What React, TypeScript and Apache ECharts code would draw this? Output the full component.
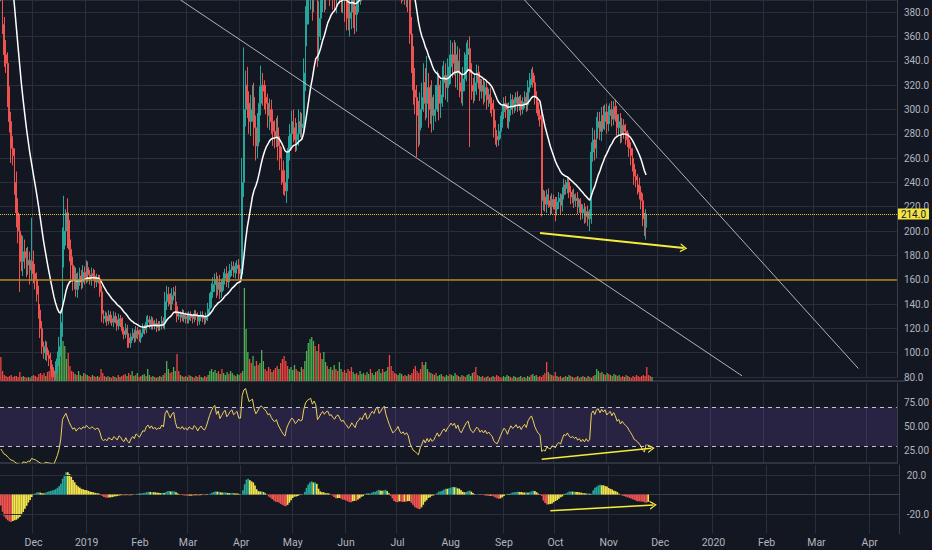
import React, { useEffect, useRef } from "react";
import * as echarts from "echarts";

// ---------- data ----------
const START_UTC = Date.UTC(2018, 10, 12);
const DAY_COUNT = 524;
const MONTHS = ["Jan", "Feb", "Mar", "Apr", "May", "Jun", "Jul", "Aug", "Sep", "Oct", "Nov", "Dec"];

// closes before the visible window (indicator warm-up)
const priorCloses = [
  445, 448, 452, 450, 447, 443, 446, 451, 454, 452,
  449, 446, 448, 452, 455, 453, 450, 447, 449, 452,
  456, 458, 455, 452, 454, 457, 462, 470, 500, 530,
  560, 575, 565, 550, 540, 530, 520, 515, 510, 505,
];

// daily closes from 2018-11-12
const closes = [
  395, 370, 345, 338, 312, 290, 268, 262, 240, 215,
  200, 188, 175, 183, 178, 172, 176, 168, 175, 165,
  160, 148, 135, 120, 105, 100, 104, 98, 95, 90,
  85, 82, 88, 95, 105, 125, 185, 200, 215, 200,
  185, 172, 160, 165, 152, 160, 163, 158, 166, 162,
  170, 164, 160, 165, 163, 158, 161, 160, 150, 132,
  128, 130, 126, 131, 128, 125, 130, 127, 122, 128,
  125, 118, 115, 120, 112, 108, 113, 116, 112, 118,
  115, 112, 116, 120, 119, 125, 127, 123, 126, 122,
  124, 121, 123, 122, 126, 124, 142, 148, 144, 140,
  147, 150, 138, 130, 131, 129, 132, 128, 130, 127,
  131, 129, 128, 132, 130, 126, 129, 131, 128, 127,
  130, 136, 143, 150, 156, 160, 152, 158, 150, 155,
  161, 165, 158, 162, 168, 171, 166, 169, 172, 165,
  165, 240, 300, 320, 305, 290, 300, 310, 285, 270,
  285, 305, 320, 315, 310, 305, 295, 300, 290, 282,
  278, 285, 270, 260, 250, 240, 233, 255, 268, 280,
  290, 285, 275, 280, 290, 285, 288, 330, 370, 390,
  400, 410, 395, 420, 410, 360, 375, 395, 410, 400,
  415, 420, 405, 410, 400, 395, 410, 415, 405, 395,
  400, 390, 385, 375, 380, 392, 385, 378, 395, 400,
  410, 405, 420, 430, 415, 420, 435, 445, 440, 460,
  470, 455, 465, 480, 490, 470, 455, 440, 425, 410,
  415, 420, 430, 415, 405, 410, 400, 405, 395, 362,
  340, 316, 310, 295, 283, 300, 310, 322, 305, 318,
  300, 310, 295, 300, 310, 320, 305, 312, 322, 328,
  318, 330, 335, 345, 338, 345, 330, 340, 322, 315,
  325, 335, 345, 350, 330, 320, 315, 322, 330, 325,
  315, 320, 312, 318, 308, 312, 305, 300, 285, 278,
  275, 282, 290, 298, 305, 300, 290, 300, 308, 302,
  305, 310, 303, 307, 300, 306, 310, 304, 318, 325,
  330, 322, 310, 302, 295, 292, 225, 228, 222, 230,
  225, 220, 226, 223, 218, 224, 227, 221, 230, 238,
  235, 240, 232, 228, 230, 225, 227, 220, 222, 215,
  218, 212, 216, 210, 212, 265, 275, 268, 285, 290,
  282, 295, 290, 298, 288, 295, 300, 292, 302, 296,
  285, 290, 280, 287, 282, 278, 275, 268, 262, 255,
  245, 242, 238, 232, 225, 210, 203, 214,
];

// upper / lower wick lengths (price units) per day
const wickUp = [
  8, 10, 6, 12, 9, 7, 8, 10, 6, 9,
  12, 14, 9, 13, 10, 8, 11, 7, 10, 9,
  8, 6, 7, 5, 6, 4, 6, 5, 4, 5,
  4, 3, 5, 6, 8, 10, 18, 20, 10, 12,
  9, 8, 7, 6, 5, 6, 7, 5, 6, 5,
  6, 5, 4, 5, 4, 5, 4, 3, 4, 5,
  3, 4, 3, 4, 3, 3, 4, 3, 3, 4,
  3, 4, 3, 4, 3, 4, 3, 4, 3, 4,
  3, 4, 3, 4, 3, 5, 4, 3, 4, 3,
  3, 4, 3, 3, 4, 3, 8, 7, 6, 5,
  6, 4, 5, 4, 3, 3, 4, 3, 3, 3,
  3, 3, 2, 3, 3, 3, 2, 3, 3, 2,
  3, 5, 6, 7, 6, 5, 6, 5, 6, 5,
  5, 4, 6, 5, 5, 4, 4, 5, 4, 5,
  4, 20, 30, 12, 15, 10, 12, 10, 12, 10,
  12, 14, 12, 10, 9, 10, 8, 9, 8, 10,
  9, 8, 10, 8, 9, 8, 10, 9, 10, 8,
  9, 10, 8, 9, 10, 8, 9, 12, 15, 18,
  15, 14, 12, 16, 14, 12, 14, 12, 15, 14,
  12, 14, 12, 13, 12, 14, 12, 13, 12, 10,
  12, 10, 12, 10, 12, 10, 12, 10, 12, 10,
  12, 10, 14, 12, 10, 12, 14, 16, 12, 18,
  20, 16, 18, 20, 25, 18, 16, 14, 12, 15,
  12, 14, 12, 10, 12, 10, 12, 10, 12, 15,
  14, 12, 18, 10, 12, 14, 12, 16, 12, 14,
  12, 10, 14, 12, 10, 12, 10, 12, 14, 12,
  10, 12, 10, 12, 10, 12, 10, 12, 10, 8,
  10, 12, 10, 7, 10, 8, 6, 8, 7, 6,
  6, 5, 6, 5, 6, 5, 6, 5, 8, 6,
  5, 6, 5, 6, 5, 6, 5, 6, 5, 4,
  5, 4, 5, 4, 5, 4, 5, 4, 6, 5,
  3, 5, 6, 5, 4, 5, 8, 6, 5, 4,
  5, 4, 5, 4, 5, 4, 5, 4, 6, 5,
  4, 5, 4, 5, 4, 5, 4, 5, 4, 5,
  4, 5, 4, 5, 6, 8, 10, 8, 9, 8,
  8, 7, 8, 6, 7, 8, 5, 7, 5, 6,
  7, 6, 7, 6, 5, 6, 5, 6, 5, 6,
  5, 6, 5, 6, 5, 6, 5, 4,
];
const wickDown = [
  6, 8, 10, 8, 10, 9, 12, 8, 10, 12,
  10, 14, 8, 12, 9, 10, 8, 12, 9, 8,
  8, 6, 7, 8, 6, 5, 6, 5, 6, 4,
  5, 3, 5, 4, 6, 8, 12, 15, 12, 14,
  10, 12, 9, 8, 6, 7, 5, 6, 5, 6,
  5, 6, 4, 5, 4, 5, 4, 3, 4, 6,
  4, 3, 4, 3, 4, 3, 4, 3, 4, 3,
  4, 3, 4, 3, 4, 3, 4, 3, 4, 3,
  4, 3, 4, 3, 4, 3, 4, 3, 4, 3,
  3, 4, 3, 4, 3, 4, 5, 7, 6, 5,
  5, 4, 6, 5, 3, 4, 3, 3, 4, 3,
  3, 3, 4, 3, 3, 4, 3, 3, 3, 4,
  3, 4, 5, 6, 5, 6, 7, 5, 6, 5,
  4, 5, 4, 5, 4, 5, 4, 5, 4, 5,
  4, 5, 12, 14, 12, 10, 12, 10, 15, 12,
  10, 12, 10, 12, 10, 9, 10, 12, 10, 12,
  10, 9, 12, 10, 12, 10, 8, 10, 12, 10,
  10, 12, 10, 9, 10, 8, 10, 8, 15, 18,
  20, 18, 22, 15, 20, 25, 20, 18, 15, 20,
  18, 15, 20, 14, 18, 15, 16, 14, 18, 15,
  16, 18, 20, 12, 15, 14, 18, 16, 14, 15,
  14, 16, 15, 18, 14, 16, 14, 16, 15, 18,
  16, 18, 20, 16, 18, 20, 22, 18, 20, 16,
  15, 18, 16, 15, 18, 16, 14, 16, 15, 8,
  10, 12, 14, 12, 14, 12, 15, 12, 14, 12,
  15, 12, 14, 12, 10, 12, 14, 12, 10, 12,
  10, 12, 10, 14, 12, 10, 12, 14, 12, 10,
  12, 10, 12, 14, 10, 12, 10, 8, 10, 8,
  8, 6, 8, 6, 8, 6, 8, 6, 8, 7,
  6, 5, 6, 5, 6, 7, 5, 6, 5, 6,
  5, 6, 5, 4, 5, 4, 5, 6, 5, 4,
  5, 4, 6, 5, 4, 6, 8, 8, 6, 7,
  6, 7, 6, 5, 6, 5, 6, 7, 5, 4,
  5, 4, 5, 6, 5, 6, 5, 6, 5, 6,
  5, 6, 5, 6, 5, 6, 8, 10, 8, 9,
  7, 8, 6, 7, 8, 6, 7, 6, 5, 6,
  7, 6, 8, 7, 6, 7, 6, 7, 8, 6,
  7, 6, 8, 6, 7, 6, 7, 8,
];

// notable wick extremes (day index -> price)
const wickHighs: Record<number, number> = {
  18: 211, 37: 229, 38: 218, 101: 154, 142: 351, 143: 332, 152: 336,
  249: 344, 263: 357, 273: 357, 310: 333, 356: 305, 358: 307,
};
const wickLows: Record<number, number> = {
  11: 150, 31: 80, 59: 125, 74: 104, 75: 104, 149: 258, 166: 229, 185: 335,
  203: 365, 243: 261, 274: 269, 316: 212, 324: 208, 343: 204, 344: 200,
  376: 196, 377: 193,
};

// relative daily volume
const volumes = [
  24, 10, 6, 5, 4, 5, 6, 4, 5, 5,
  4, 9, 4, 5, 4, 3, 4, 3, 5, 6,
  5, 4, 7, 8, 6, 8, 5, 9, 10, 12,
  11, 8, 14, 20, 30, 45, 40, 35, 22, 28,
  15, 10, 9, 7, 6, 10, 6, 5, 8, 7,
  6, 5, 4, 6, 5, 4, 5, 4, 12, 8,
  5, 4, 5, 4, 3, 5, 4, 3, 6, 4,
  5, 6, 7, 5, 8, 6, 10, 5, 6, 8,
  4, 5, 6, 7, 5, 12, 6, 4, 5, 4,
  3, 4, 5, 4, 6, 8, 20, 12, 8, 9,
  14, 10, 27, 10, 6, 5, 4, 5, 4, 6,
  5, 4, 3, 5, 4, 6, 4, 3, 5, 4,
  6, 10, 12, 9, 11, 8, 10, 7, 12, 8,
  6, 9, 7, 10, 8, 6, 5, 7, 6, 8,
  10, 93, 52, 29, 22, 18, 25, 15, 20, 16,
  18, 31, 20, 12, 10, 14, 12, 9, 11, 13,
  15, 12, 18, 22, 25, 20, 15, 12, 14, 11,
  16, 12, 10, 9, 14, 12, 20, 30, 38, 42,
  44, 40, 35, 30, 37, 28, 22, 29, 19, 15,
  12, 14, 11, 16, 12, 10, 19, 12, 9, 11,
  8, 12, 10, 14, 9, 7, 8, 6, 10, 7,
  8, 6, 9, 7, 12, 8, 6, 9, 10, 12,
  8, 12, 9, 10, 14, 26, 15, 10, 8, 7,
  6, 8, 7, 5, 6, 5, 7, 6, 8, 12,
  15, 10, 8, 12, 19, 16, 19, 12, 9, 8,
  7, 6, 8, 5, 6, 7, 5, 4, 6, 5,
  7, 6, 5, 8, 6, 5, 4, 6, 5, 4,
  6, 7, 5, 8, 9, 14, 6, 5, 4, 5,
  3, 4, 5, 3, 4, 5, 4, 6, 5, 4,
  3, 5, 4, 6, 5, 4, 3, 5, 4, 3,
  4, 5, 3, 4, 3, 5, 4, 6, 7, 5,
  6, 4, 5, 4, 6, 8, 19, 9, 7, 6,
  5, 9, 5, 4, 5, 3, 4, 5, 4, 6,
  5, 4, 3, 4, 5, 3, 4, 5, 4, 3,
  5, 4, 3, 5, 6, 12, 10, 8, 9, 7,
  6, 8, 7, 6, 5, 7, 6, 5, 6, 4,
  5, 4, 6, 5, 4, 3, 5, 4, 6, 5,
  4, 5, 6, 5, 14, 6, 5, 4,
];

const currentLevel = 214;
const supportLevel = 160;
const trendUpper: [string, number][] = [["2019-09-14", 390], ["2020-03-27", 87]];
const trendLower: [string, number][] = [["2019-02-25", 390], ["2020-01-19", 81]];
const priceArrow: [string, number][] = [["2019-09-23", 198.4], ["2019-12-16", 186]];
const rsiArrow: [string, number][] = [["2019-09-24", 16.3], ["2019-11-27", 27.7]];
const macdArrow: [string, number][] = [["2019-09-28", -16.6], ["2019-11-27", -10.7]];
const rsiBand = [30, 70];
const macdGuides = [20, -20];

// ---------- styles ----------
const BG = "#131722";
const GRID = "#2a2e3b";
const AXIS = "#3a3e4a";
const TEXT = "#b2b5be";
const UP = "#26a69a";
const DOWN = "#ef5350";
const VOL_UP = "#4caf50";
const VOL_DOWN = "#f0463f";
const YELLOW = "#f5ec3a";
const HIST_YELLOW = "#f2e34b";
const CHEVRON = "path://M0,10 L5,0 L10,10 L8.4,10 L5,3.2 L1.6,10 Z";

// ---------- indicator helpers ----------
function ema(values: number[], period: number): number[] {
  const k = 2 / (period + 1);
  const out: number[] = [];
  let prev = values[0];
  values.forEach((v, i) => {
    prev = i === 0 ? v : prev + k * (v - prev);
    out.push(prev);
  });
  return out;
}

function rsi(values: number[], period: number): number[] {
  const out: number[] = values.map(() => NaN);
  let gain = 0;
  let loss = 0;
  for (let i = 1; i <= period; i++) {
    const d = values[i] - values[i - 1];
    if (d > 0) gain += d;
    else loss -= d;
  }
  gain /= period;
  loss /= period;
  out[period] = loss === 0 ? 100 : 100 - 100 / (1 + gain / loss);
  for (let i = period + 1; i < values.length; i++) {
    const d = values[i] - values[i - 1];
    gain = (gain * (period - 1) + Math.max(d, 0)) / period;
    loss = (loss * (period - 1) + Math.max(-d, 0)) / period;
    out[i] = loss === 0 ? 100 : 100 - 100 / (1 + gain / loss);
  }
  return out;
}

function buildOption() {
  const dates: string[] = [];
  for (let i = 0; i < DAY_COUNT; i++) {
    dates.push(new Date(START_UTC + i * 86400000).toISOString().slice(0, 10));
  }
  const all = priorCloses.concat(closes);
  const off = priorCloses.length;
  const opens = closes.map((_, i) => (i === 0 ? priorCloses[priorCloses.length - 1] : closes[i - 1]));

  const candles = closes.map((c, i) => {
    const o = opens[i];
    const hi = wickHighs[i] !== undefined ? wickHighs[i] : Math.max(o, c) + wickUp[i];
    const lo = wickLows[i] !== undefined ? wickLows[i] : Math.min(o, c) - wickDown[i];
    return [o, c, lo, hi];
  });

  const ma = ema(all, 20).slice(off).map((v) => +v.toFixed(2));
  const rsiVals = rsi(all, 14).slice(off).map((v) => +v.toFixed(2));
  const e12 = ema(all, 12);
  const e26 = ema(all, 26);
  const macd = e12.map((v, i) => v - e26[i]);
  const signal = ema(macd, 9);
  const histAll = macd.map((v, i) => v - signal[i]);
  const hist = histAll.slice(off);
  const histData = hist.map((h, i) => {
    const prev = histAll[off + i - 1];
    let color: string;
    if (h >= 0) color = h >= prev ? UP : HIST_YELLOW;
    else color = h < prev ? DOWN : HIST_YELLOW;
    return { value: +h.toFixed(2), itemStyle: { color } };
  });
  const volData = volumes.map((v, i) => ({
    value: v,
    itemStyle: { color: closes[i] >= opens[i] ? VOL_UP : VOL_DOWN },
  }));

  const isMonthStart = (_i: number, v: string) => v.slice(8) === "01";
  const monthLabel = (v: string) => {
    const m = +v.slice(5, 7);
    return m === 1 ? v.slice(0, 4) : MONTHS[m - 1];
  };

  const baseX = (gridIndex: number, extra: any = {}) => ({
    type: "category",
    gridIndex,
    data: dates,
    boundaryGap: true,
    axisLine: { show: false },
    axisTick: { show: false },
    axisLabel: { show: false },
    splitLine: { show: true, interval: isMonthStart, lineStyle: { color: GRID, width: 1 } },
    ...extra,
  });

  const labelStyle = { color: TEXT, fontSize: 10, fontFamily: "Roboto, 'Noto Sans', sans-serif", margin: 7 };

  const arrowLine = (pts: [string, number][], width: number) => [
    { coord: pts[0], symbol: "none" },
    {
      coord: pts[1],
      symbol: CHEVRON,
      symbolSize: [9, 7],
      lineStyle: { color: YELLOW, width, type: "solid" },
    },
  ];

  return {
    animation: false,
    backgroundColor: BG,
    grid: [
      { left: 0, right: 27, top: 0, height: 377 },
      { left: 0, right: 27, top: 0, height: 381 },
      { left: 0, right: 27, top: 383, height: 80 },
      { left: 0, right: 27, top: 465, height: 68.6 },
    ],
    xAxis: [
      baseX(0),
      baseX(1, {
        splitLine: { show: false },
        axisLine: { show: true, lineStyle: { color: AXIS, width: 1.5 } },
      }),
      baseX(2, { axisLine: { show: true, lineStyle: { color: AXIS, width: 1.5 } } }),
      baseX(3, {
        axisLine: { show: true, lineStyle: { color: AXIS, width: 1 } },
        axisLabel: {
          show: true,
          interval: isMonthStart,
          formatter: monthLabel,
          ...labelStyle,
          fontSize: 10.5,
          margin: 3,
        },
      }),
    ],
    yAxis: [
      {
        type: "value",
        gridIndex: 0,
        position: "right",
        min: 80,
        max: 390,
        interval: 20,
        axisLine: { show: true, lineStyle: { color: AXIS } },
        axisTick: { show: false },
        axisLabel: { ...labelStyle, showMaxLabel: false, formatter: (v: number) => v.toFixed(1) },
        splitLine: { show: true, lineStyle: { color: GRID } },
      },
      { type: "value", gridIndex: 1, min: 0, max: 381, show: false },
      {
        type: "value",
        gridIndex: 2,
        position: "right",
        min: 12.5,
        max: 95,
        interval: 12.5,
        axisLine: { show: true, lineStyle: { color: AXIS } },
        axisTick: { show: false },
        axisLabel: {
          ...labelStyle,
          formatter: (v: number) => (v % 25 === 0 && v > 0 && v < 95 ? v.toFixed(2) : ""),
        },
        splitLine: { show: false },
      },
      {
        type: "value",
        gridIndex: 3,
        position: "right",
        min: -40,
        max: 30.3,
        interval: 20,
        axisLine: { show: true, lineStyle: { color: AXIS } },
        axisTick: { show: false },
        axisLabel: {
          ...labelStyle,
          formatter: (v: number) => (v === 20 || v === -20 ? v.toFixed(1) : ""),
        },
        splitLine: { show: false },
      },
    ],
    series: [
      {
        type: "bar",
        name: "Volume",
        xAxisIndex: 1,
        yAxisIndex: 1,
        data: volData,
        barWidth: "75%",
        z: 1,
        silent: true,
      },
      {
        type: "candlestick",
        name: "Price",
        xAxisIndex: 0,
        yAxisIndex: 0,
        data: candles,
        barWidth: "78%",
        clip: true,
        z: 3,
        itemStyle: {
          color: UP,
          color0: DOWN,
          borderColor: UP,
          borderColor0: DOWN,
          borderWidth: 1,
        },
        markLine: {
          silent: true,
          symbol: "none",
          animation: false,
          label: { show: false },
          data: [
            {
              yAxis: supportLevel,
              lineStyle: { color: "#b8861b", width: 1.6, type: "solid" },
            },
            {
              yAxis: currentLevel,
              lineStyle: { color: "#d9c84a", width: 1, type: "dotted" },
              label: {
                show: true,
                position: "end",
                distance: 1,
                formatter: currentLevel.toFixed(1),
                backgroundColor: "#f2e444",
                color: "#131722",
                fontSize: 10,
                fontFamily: "Roboto, sans-serif",
                padding: [1, 3, 0, 3],
              },
            },
            [
              { coord: trendLower[0], symbol: "none" },
              { coord: trendLower[1], symbol: "none", lineStyle: { color: "#c9ccd4", width: 1, type: "solid", opacity: 0.85 } },
            ],
            [
              { coord: trendUpper[0], symbol: "none" },
              { coord: trendUpper[1], symbol: "none", lineStyle: { color: "#c9ccd4", width: 1, type: "solid", opacity: 0.85 } },
            ],
            arrowLine(priceArrow, 2),
          ],
        },
      },
      {
        type: "line",
        name: "EMA20",
        xAxisIndex: 0,
        yAxisIndex: 0,
        data: ma,
        showSymbol: false,
        symbol: "none",
        clip: true,
        z: 4,
        lineStyle: { color: "#ffffff", width: 1.5 },
      },
      {
        type: "line",
        name: "RSI",
        xAxisIndex: 2,
        yAxisIndex: 2,
        data: rsiVals,
        showSymbol: false,
        symbol: "none",
        clip: true,
        z: 4,
        lineStyle: { color: "#ecd35b", width: 1 },
        markArea: {
          silent: true,
          itemStyle: { color: "rgba(126, 87, 194, 0.2)" },
          data: [[{ yAxis: rsiBand[0] }, { yAxis: rsiBand[1] }]],
        },
        markLine: {
          silent: true,
          symbol: "none",
          label: { show: false },
          data: [
            { yAxis: rsiBand[1], lineStyle: { color: "#c3c6ce", width: 1, type: [4, 4] } },
            { yAxis: rsiBand[0], lineStyle: { color: "#c3c6ce", width: 1, type: [4, 4] } },
            arrowLine(rsiArrow, 1.6),
          ],
        },
      },
      {
        type: "bar",
        name: "Histogram",
        xAxisIndex: 3,
        yAxisIndex: 3,
        data: histData,
        barWidth: "100%",
        z: 3,
        markLine: {
          silent: true,
          symbol: "none",
          label: { show: false },
          data: [
            { yAxis: macdGuides[0], lineStyle: { color: GRID, width: 1, type: "solid" } },
            { yAxis: macdGuides[1], lineStyle: { color: GRID, width: 1, type: "solid" } },
            arrowLine(macdArrow, 1.6),
          ],
        },
      },
    ],
  };
}

export default function App() {
  const ref = useRef<HTMLDivElement>(null);
  useEffect(() => {
    document.body.style.margin = "0";
    document.body.style.background = BG;
    const chart = echarts.init(ref.current as HTMLDivElement, null, { renderer: "svg" });
    chart.setOption(buildOption() as any);
    return () => chart.dispose();
  }, []);
  return <div ref={ref} style={{ width: 932, height: 550, background: BG }} />;
}
